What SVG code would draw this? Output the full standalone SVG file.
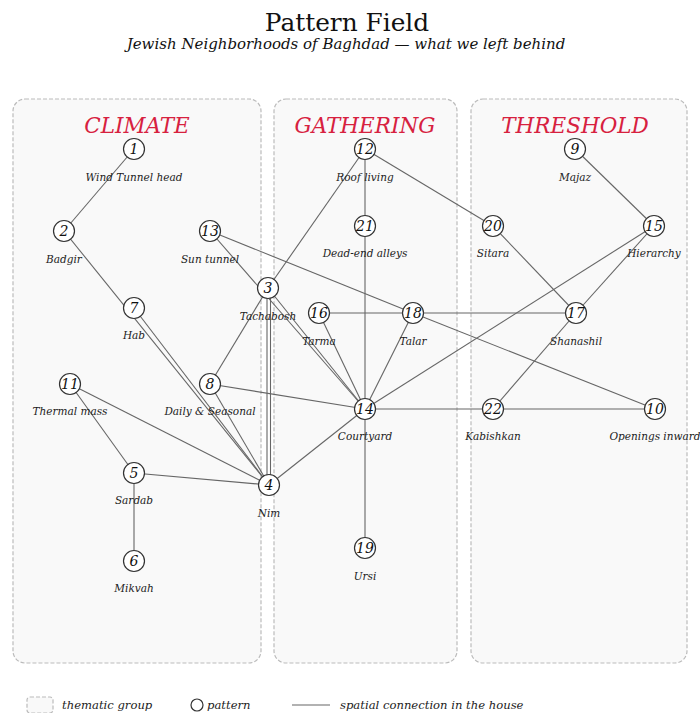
<svg xmlns="http://www.w3.org/2000/svg" width="700" height="713" viewBox="0 0 700 713">
<style>
text{font-family:"DejaVu Serif","Liberation Serif",serif;}
.title{font-size:24.8px;fill:#111;text-anchor:middle;}
.sub{font-size:15px;font-style:italic;fill:#111;text-anchor:middle;}
.grp{fill:#f9f9f9;stroke:#bbb;stroke-width:1.2;stroke-dasharray:4 2;}
.gt{font-size:21.5px;font-style:italic;fill:#d7213f;text-anchor:middle;}
.edges line{stroke:#666;stroke-width:1.1;}
.node circle{fill:#fff;stroke:#333;stroke-width:1.2;}
.num{font-size:14px;font-style:italic;fill:#111;text-anchor:middle;}
.lbl{font-size:10.5px;font-style:italic;fill:#222;text-anchor:middle;}
.leg{font-size:11.6px;font-style:italic;fill:#222;}
</style>
<rect width="700" height="713" fill="#fff"/>
<text class="title" x="347" y="31">Pattern Field</text>
<text class="sub" x="346" y="49">Jewish Neighborhoods of Baghdad — what we left behind</text>

<g id="group-climate"><rect class="grp" x="13" y="99" width="248" height="564" rx="12"/><text class="gt" x="137" y="133">CLIMATE</text></g>
<g id="group-gathering"><rect class="grp" x="274" y="99" width="183" height="564" rx="12"/><text class="gt" x="365" y="133">GATHERING</text></g>
<g id="group-threshold"><rect class="grp" x="471" y="99" width="216" height="564" rx="12"/><text class="gt" x="575" y="133">THRESHOLD</text></g>

<g id="connectors" class="edges">
<line x1="134" y1="149" x2="64" y2="231"/>
<line x1="64" y1="231" x2="269" y2="485"/>
<line x1="134" y1="308" x2="269" y2="485"/>
<line x1="210" y1="231" x2="365" y2="409"/>
<line x1="268" y1="288" x2="365" y2="409"/>
<line x1="210" y1="231" x2="413" y2="313"/>
<line x1="268" y1="288" x2="365" y2="149"/>
<line x1="267" y1="288" x2="267" y2="485"/>
<line x1="270.5" y1="288" x2="270.5" y2="485"/>
<line x1="268" y1="288" x2="210" y2="384"/>
<line x1="210" y1="384" x2="269" y2="485"/>
<line x1="210" y1="384" x2="365" y2="409"/>
<line x1="70" y1="384" x2="134" y2="473"/>
<line x1="70" y1="384" x2="269" y2="485"/>
<line x1="134" y1="473" x2="269" y2="485"/>
<line x1="134" y1="473" x2="134" y2="561"/>
<line x1="269" y1="485" x2="365" y2="409"/>
<line x1="365" y1="149" x2="365" y2="226"/>
<line x1="365" y1="226" x2="365" y2="409"/>
<line x1="365" y1="149" x2="493" y2="226"/>
<line x1="493" y1="226" x2="576" y2="313"/>
<line x1="575" y1="149" x2="654" y2="226"/>
<line x1="654" y1="226" x2="576" y2="313"/>
<line x1="654" y1="226" x2="365" y2="409"/>
<line x1="319" y1="313" x2="413" y2="313"/>
<line x1="413" y1="313" x2="576" y2="313"/>
<line x1="319" y1="313" x2="365" y2="409"/>
<line x1="413" y1="313" x2="365" y2="409"/>
<line x1="413" y1="313" x2="655" y2="409"/>
<line x1="576" y1="313" x2="493" y2="409"/>
<line x1="365" y1="409" x2="493" y2="409"/>
<line x1="493" y1="409" x2="655" y2="409"/>
<line x1="365" y1="409" x2="365" y2="548"/>
</g>

<g id="n1" class="node"><circle cx="134" cy="149" r="10.5"/><text class="num" x="134" y="154">1</text><text class="lbl" x="134" y="181">Wind Tunnel head</text></g>
<g id="n2" class="node"><circle cx="64" cy="231" r="10.5"/><text class="num" x="64" y="236">2</text><text class="lbl" x="64" y="263">Badgir</text></g>
<g id="n13" class="node"><circle cx="210" cy="231" r="10.5"/><text class="num" x="210" y="236">13</text><text class="lbl" x="210" y="263">Sun tunnel</text></g>
<g id="n3" class="node"><circle cx="268" cy="288" r="10.5"/><text class="num" x="268" y="293">3</text><text class="lbl" x="268" y="320">Tachabosh</text></g>
<g id="n7" class="node"><circle cx="134" cy="308" r="10.5"/><text class="num" x="134" y="313">7</text><text class="lbl" x="134" y="339">Hab</text></g>
<g id="n11" class="node"><circle cx="70" cy="384" r="10.5"/><text class="num" x="70" y="389">11</text><text class="lbl" x="70" y="415">Thermal mass</text></g>
<g id="n8" class="node"><circle cx="210" cy="384" r="10.5"/><text class="num" x="210" y="389">8</text><text class="lbl" x="210" y="415">Daily &amp; Seasonal</text></g>
<g id="n5" class="node"><circle cx="134" cy="473" r="10.5"/><text class="num" x="134" y="478">5</text><text class="lbl" x="134" y="504">Sardab</text></g>
<g id="n4" class="node"><circle cx="269" cy="485" r="10.5"/><text class="num" x="269" y="490">4</text><text class="lbl" x="269" y="517">Nim</text></g>
<g id="n6" class="node"><circle cx="134" cy="561" r="10.5"/><text class="num" x="134" y="566">6</text><text class="lbl" x="134" y="592">Mikvah</text></g>
<g id="n12" class="node"><circle cx="365" cy="149" r="10.5"/><text class="num" x="365" y="154">12</text><text class="lbl" x="365" y="181">Roof living</text></g>
<g id="n21" class="node"><circle cx="365" cy="226" r="10.5"/><text class="num" x="365" y="231">21</text><text class="lbl" x="365" y="257">Dead-end alleys</text></g>
<g id="n16" class="node"><circle cx="319" cy="313" r="10.5"/><text class="num" x="319" y="318">16</text><text class="lbl" x="319" y="345">Tarma</text></g>
<g id="n18" class="node"><circle cx="413" cy="313" r="10.5"/><text class="num" x="413" y="318">18</text><text class="lbl" x="413" y="345">Talar</text></g>
<g id="n14" class="node"><circle cx="365" cy="409" r="10.5"/><text class="num" x="365" y="414">14</text><text class="lbl" x="365" y="440">Courtyard</text></g>
<g id="n19" class="node"><circle cx="365" cy="548" r="10.5"/><text class="num" x="365" y="553">19</text><text class="lbl" x="365" y="580">Ursi</text></g>
<g id="n9" class="node"><circle cx="575" cy="149" r="10.5"/><text class="num" x="575" y="154">9</text><text class="lbl" x="575" y="181">Majaz</text></g>
<g id="n20" class="node"><circle cx="493" cy="226" r="10.5"/><text class="num" x="493" y="231">20</text><text class="lbl" x="493" y="257">Sitara</text></g>
<g id="n15" class="node"><circle cx="654" cy="226" r="10.5"/><text class="num" x="654" y="231">15</text><text class="lbl" x="654" y="257">Hierarchy</text></g>
<g id="n17" class="node"><circle cx="576" cy="313" r="10.5"/><text class="num" x="576" y="318">17</text><text class="lbl" x="576" y="345">Shanashil</text></g>
<g id="n22" class="node"><circle cx="493" cy="409" r="10.5"/><text class="num" x="493" y="414">22</text><text class="lbl" x="493" y="440">Kabishkan</text></g>
<g id="n10" class="node"><circle cx="655" cy="409" r="10.5"/><text class="num" x="655" y="414">10</text><text class="lbl" x="655" y="440">Openings inward</text></g>

<g id="legend">
<rect class="grp" x="27" y="697" width="26" height="16" rx="3"/>
<text class="leg" x="62" y="709">thematic group</text>
<circle cx="197" cy="705" r="6" fill="#fff" stroke="#333" stroke-width="1.2"/>
<text class="leg" x="207" y="709">pattern</text>
<line x1="292" y1="705" x2="330" y2="705" stroke="#666" stroke-width="1.1"/>
<text class="leg" x="340" y="709">spatial connection in the house</text>
</g>
</svg>
